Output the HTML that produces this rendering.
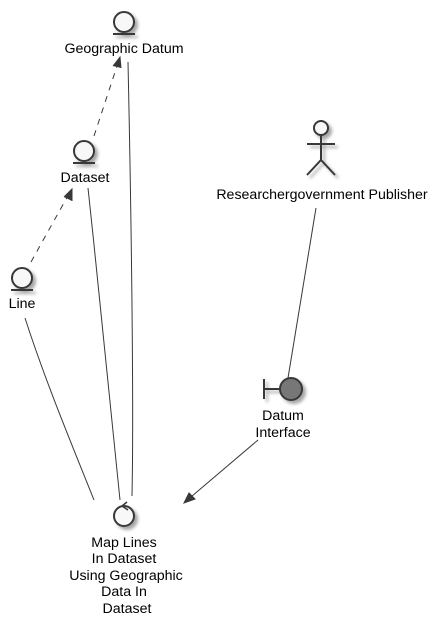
<!DOCTYPE html>
<html><head><style>body{margin:0;background:#fff}svg{display:block}text{font-family:"Liberation Sans",sans-serif;font-size:14.2px;fill:#000}</style></head><body>
<svg width="439" height="629" viewBox="0 0 439 629" xmlns="http://www.w3.org/2000/svg">
<defs><filter id="s" x="-50%" y="-50%" width="200%" height="200%"><feGaussianBlur in="SourceAlpha" stdDeviation="1.5"/><feOffset dx="3" dy="3"/><feComponentTransfer><feFuncA type="linear" slope="0.35"/></feComponentTransfer><feMerge><feMergeNode/><feMergeNode in="SourceGraphic"/></feMerge></filter></defs>
<g stroke="#383838" fill="none" stroke-width="1">
<path d="M94,136 L119,60" stroke-dasharray="6,6"/>
<path d="M113,66 L120,57 L121,68" fill="#383838"/>
<path d="M31,262 L70,192" stroke-dasharray="6,6"/>
<path d="M64,197 L72,189 L72,201" fill="#383838"/>
<path d="M128,62 C131,200 134,400 132,496"/>
<path d="M88,188 C100,300 112,420 120,500"/>
<path d="M25,318 C45,380 70,440 94,500"/>
<path d="M316,208 L288,378"/>
<path d="M258,440 L185,502"/>
<path d="M184,503 L189,493 L195,499 Z" fill="#383838"/>
</g>
<g stroke="#383838" stroke-width="2" fill="#f8f8f8" filter="url(#s)">
<circle cx="124" cy="22" r="10"/><line x1="113" y1="34" x2="135" y2="34"/>
<circle cx="84" cy="151" r="10"/><line x1="73" y1="163" x2="95" y2="163"/>
<circle cx="22" cy="278" r="10"/><line x1="11" y1="290" x2="33" y2="290"/>
<circle cx="124" cy="516" r="10"/>
<circle cx="291" cy="389" r="11" fill="#777"/><line x1="264" y1="379" x2="264" y2="399"/><line x1="264" y1="389" x2="280" y2="389"/>
<circle cx="321" cy="128" r="7"/><line x1="321" y1="135" x2="321" y2="160"/><line x1="307" y1="144" x2="335" y2="144"/><path d="M307,175 L321,160 L335,175" fill="none"/>
</g>
<path d="M127,502 L122,506 L128,510" stroke="#383838" stroke-width="1.5" fill="none"/>
<g text-anchor="middle">
<text x="124" y="53">Geographic Datum</text>
<text x="85" y="182">Dataset</text>
<text x="22" y="308">Line</text>
<text x="322" y="199">Researchergovernment Publisher</text>
<text x="283" y="420">Datum</text>
<text x="283" y="437">Interface</text>
<text x="124" y="547">Map Lines</text>
<text x="124" y="563">In Dataset</text>
<text x="126" y="580">Using Geographic</text>
<text x="124" y="596">Data In</text>
<text x="127" y="613">Dataset</text>
</g>
</svg></body></html>
